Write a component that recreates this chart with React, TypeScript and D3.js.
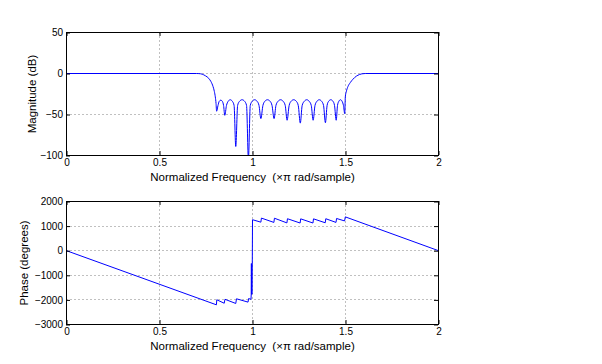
import React, { useEffect, useRef } from "react";
import * as d3 from "d3";

// frequency axis (x pi rad/sample)
const freqTicks = [0, 0.5, 1, 1.5, 2];
const magTicks = [-100, -50, 0, 50];
const phaseTicks = [-3000, -2000, -1000, 0, 1000, 2000];

// magnitude response
const magFreq = [
  0, 0.7, 0.711, 0.729, 0.747, 0.765, 0.777, 0.788, 0.795, 0.8, 0.804, 0.807,
  0.8145, 0.821, 0.8295, 0.838, 0.8445, 0.851,
  0.86, 0.869, 0.88, 0.892, 0.901, 0.91,
  0.92, 0.93, 0.944, 0.958, 0.968, 0.978,
  0.988, 0.998, 1.0115, 1.025, 1.035, 1.045,
  1.056, 1.066, 1.0805, 1.095, 1.105, 1.116,
  1.126, 1.137, 1.151, 1.165, 1.176, 1.186,
  1.197, 1.207, 1.2215, 1.236, 1.246, 1.257,
  1.267, 1.278, 1.2915, 1.305, 1.316, 1.326,
  1.336, 1.346, 1.359, 1.372, 1.382, 1.392,
  1.401, 1.409, 1.421, 1.433, 1.441, 1.45,
  1.457, 1.464, 1.473, 1.482, 1.489, 1.496,
  1.499, 1.504, 1.513, 1.526, 1.54, 1.558, 1.576, 1.588, 1.606, 2
];
const magDb = [
  0, 0, -0.1, -0.8, -2.8, -6, -10, -16, -22, -28.5, -36.6, -46,
  -39, -34, -32.5, -34, -39, -51,
  -39, -34, -32, -34, -39, -89,
  -39, -34, -32, -34, -39, -104,
  -39, -34, -32, -34, -39, -55,
  -39, -34, -32, -34, -39, -55,
  -39, -34, -32, -34, -39, -57,
  -39, -34, -32, -34, -39, -60.5,
  -39, -34, -32, -34, -39, -57,
  -39, -34, -32, -34, -39, -60,
  -39, -34, -32, -34, -39, -57,
  -39, -34, -32, -34, -39, -49,
  -28.5, -22.4, -16, -11, -7, -3.3, -1.2, -0.4, 0, 0
];

// phase response
const phaseFreq = [
  0, 0.806, 0.808, 0.848, 0.852, 0.91, 0.914, 0.976, 0.979, 0.992, 0.993,
  0.994, 0.995, 0.998, 1.0, 1.045, 1.048, 1.115, 1.118, 1.185, 1.188,
  1.256, 1.259, 1.325, 1.328, 1.391, 1.394, 1.449, 1.452, 1.495, 1.499, 2
];
const phaseDeg = [
  0, -2200, -1995, -2135, -1975, -2145, -1955, -2090, -1945, -1975, -1790,
  -520, -1780, -1760, 1260, 1160, 1325, 1150, 1320, 1130, 1300,
  1125, 1295, 1125, 1295, 1135, 1300, 1150, 1310, 1210, 1375, 0
];

const xLabel = "Normalized Frequency  (\u00d7\u03c0 rad/sample)";

const FONT = "'Liberation Sans', Arial, Helvetica, sans-serif";

function drawPanel(svg, opts) {
  var left = 66.5;
  var right = 438.5;
  var x = d3.scaleLinear().domain([0, 2]).range([left, right]);
  var y = d3.scaleLinear().domain(opts.domain).range([opts.bottom, opts.top]);

  var g = svg.append("g");

  // grid
  g.selectAll(".vgrid")
    .data(freqTicks.slice(1, -1))
    .enter()
    .append("line")
    .attr("x1", d => Math.round(x(d) - 0.5) + 0.5)
    .attr("x2", d => Math.round(x(d) - 0.5) + 0.5)
    .attr("y1", opts.top)
    .attr("y2", opts.bottom)
    .attr("stroke", "#808080")
    .attr("stroke-dasharray", "1,3");
  g.selectAll(".hgrid")
    .data(opts.ticks.slice(1, -1))
    .enter()
    .append("line")
    .attr("x1", left)
    .attr("x2", right)
    .attr("y1", d => Math.round(y(d) - 0.5) + 0.5)
    .attr("y2", d => Math.round(y(d) - 0.5) + 0.5)
    .attr("stroke", "#808080")
    .attr("stroke-dasharray", "1,3");

  // curve
  var clipId = "clip" + opts.name;
  svg
    .append("clipPath")
    .attr("id", clipId)
    .append("rect")
    .attr("x", left)
    .attr("y", opts.top)
    .attr("width", right - left)
    .attr("height", opts.bottom - opts.top);

  var pts = opts.xs.map((f, i) => [f, opts.ys[i]]);
  var line = d3
    .line()
    .x(d => x(d[0]))
    .y(d => y(d[1]))
    .curve(opts.curve);
  g.append("path")
    .attr("d", line(pts))
    .attr("fill", "none")
    .attr("stroke", "#0000ff")
    .attr("stroke-width", 1)
    .attr("clip-path", "url(#" + clipId + ")");

  // axes, ticks inside on all four sides
  var fmtX = d => String(d);
  var fmtY = d3.format("d");
  var axB = g
    .append("g")
    .attr("transform", "translate(0," + (opts.bottom - 0.5) + ")")
    .call(d3.axisBottom(x).tickValues(freqTicks).tickSizeInner(-4).tickSizeOuter(0).tickPadding(4).tickFormat(fmtX));
  var axT = g
    .append("g")
    .attr("transform", "translate(0," + (opts.top - 0.5) + ")")
    .call(d3.axisTop(x).tickValues(freqTicks).tickSizeInner(-4).tickSizeOuter(0).tickFormat(""));
  var axL = g
    .append("g")
    .attr("transform", "translate(" + (left - 0.5) + ",0)")
    .call(d3.axisLeft(y).tickValues(opts.ticks).tickSizeInner(-4).tickSizeOuter(0).tickPadding(3).tickFormat(fmtY));
  var axR = g
    .append("g")
    .attr("transform", "translate(" + (right - 0.5) + ",0)")
    .call(d3.axisRight(y).tickValues(opts.ticks).tickSizeInner(-4).tickSizeOuter(0).tickFormat(""));
  [axB, axT, axL, axR].forEach(a => {
    a.select(".domain").remove();
    a.attr("font-family", FONT).attr("font-size", 10);
    a.selectAll("line").attr("stroke", "#000");
    a.selectAll("text").attr("fill", "#000");
  });

  // box
  g.append("rect")
    .attr("x", left)
    .attr("y", opts.top)
    .attr("width", right - left)
    .attr("height", opts.bottom - opts.top)
    .attr("fill", "none")
    .attr("stroke", "#000");

  // labels
  g.append("text")
    .attr("x", (left + right) / 2)
    .attr("y", opts.bottom + 25.5)
    .attr("text-anchor", "middle")
    .attr("font-family", FONT)
    .attr("font-size", 11.5)
    .style("white-space", "pre")
    .text(xLabel);
  g.append("text")
    .attr("transform", "translate(" + opts.labelX + "," + (opts.top + opts.bottom) / 2 + ") rotate(-90)")
    .attr("text-anchor", "middle")
    .attr("font-family", FONT)
    .attr("font-size", 11.5)
    .text(opts.label);
}

export default function App() {
  const ref = useRef(null);

  useEffect(() => {
    var svg = d3.select(ref.current);
    svg.selectAll("*").remove();

    drawPanel(svg, {
      name: "mag",
      top: 32.5,
      bottom: 155.5,
      domain: [-100, 50],
      ticks: magTicks,
      xs: magFreq,
      ys: magDb,
      curve: d3.curveMonotoneX,
      label: "Magnitude (dB)",
      labelX: 35.5
    });
    drawPanel(svg, {
      name: "phase",
      top: 201.5,
      bottom: 324.5,
      domain: [-3000, 2000],
      ticks: phaseTicks,
      xs: phaseFreq,
      ys: phaseDeg,
      curve: d3.curveLinear,
      label: "Phase (degrees)",
      labelX: 27.5
    });
  }, []);

  return (
    <svg
      ref={ref}
      width={602}
      height={364}
      style={{ position: "absolute", left: 0, top: 0, background: "#fff" }}
    />
  );
}
